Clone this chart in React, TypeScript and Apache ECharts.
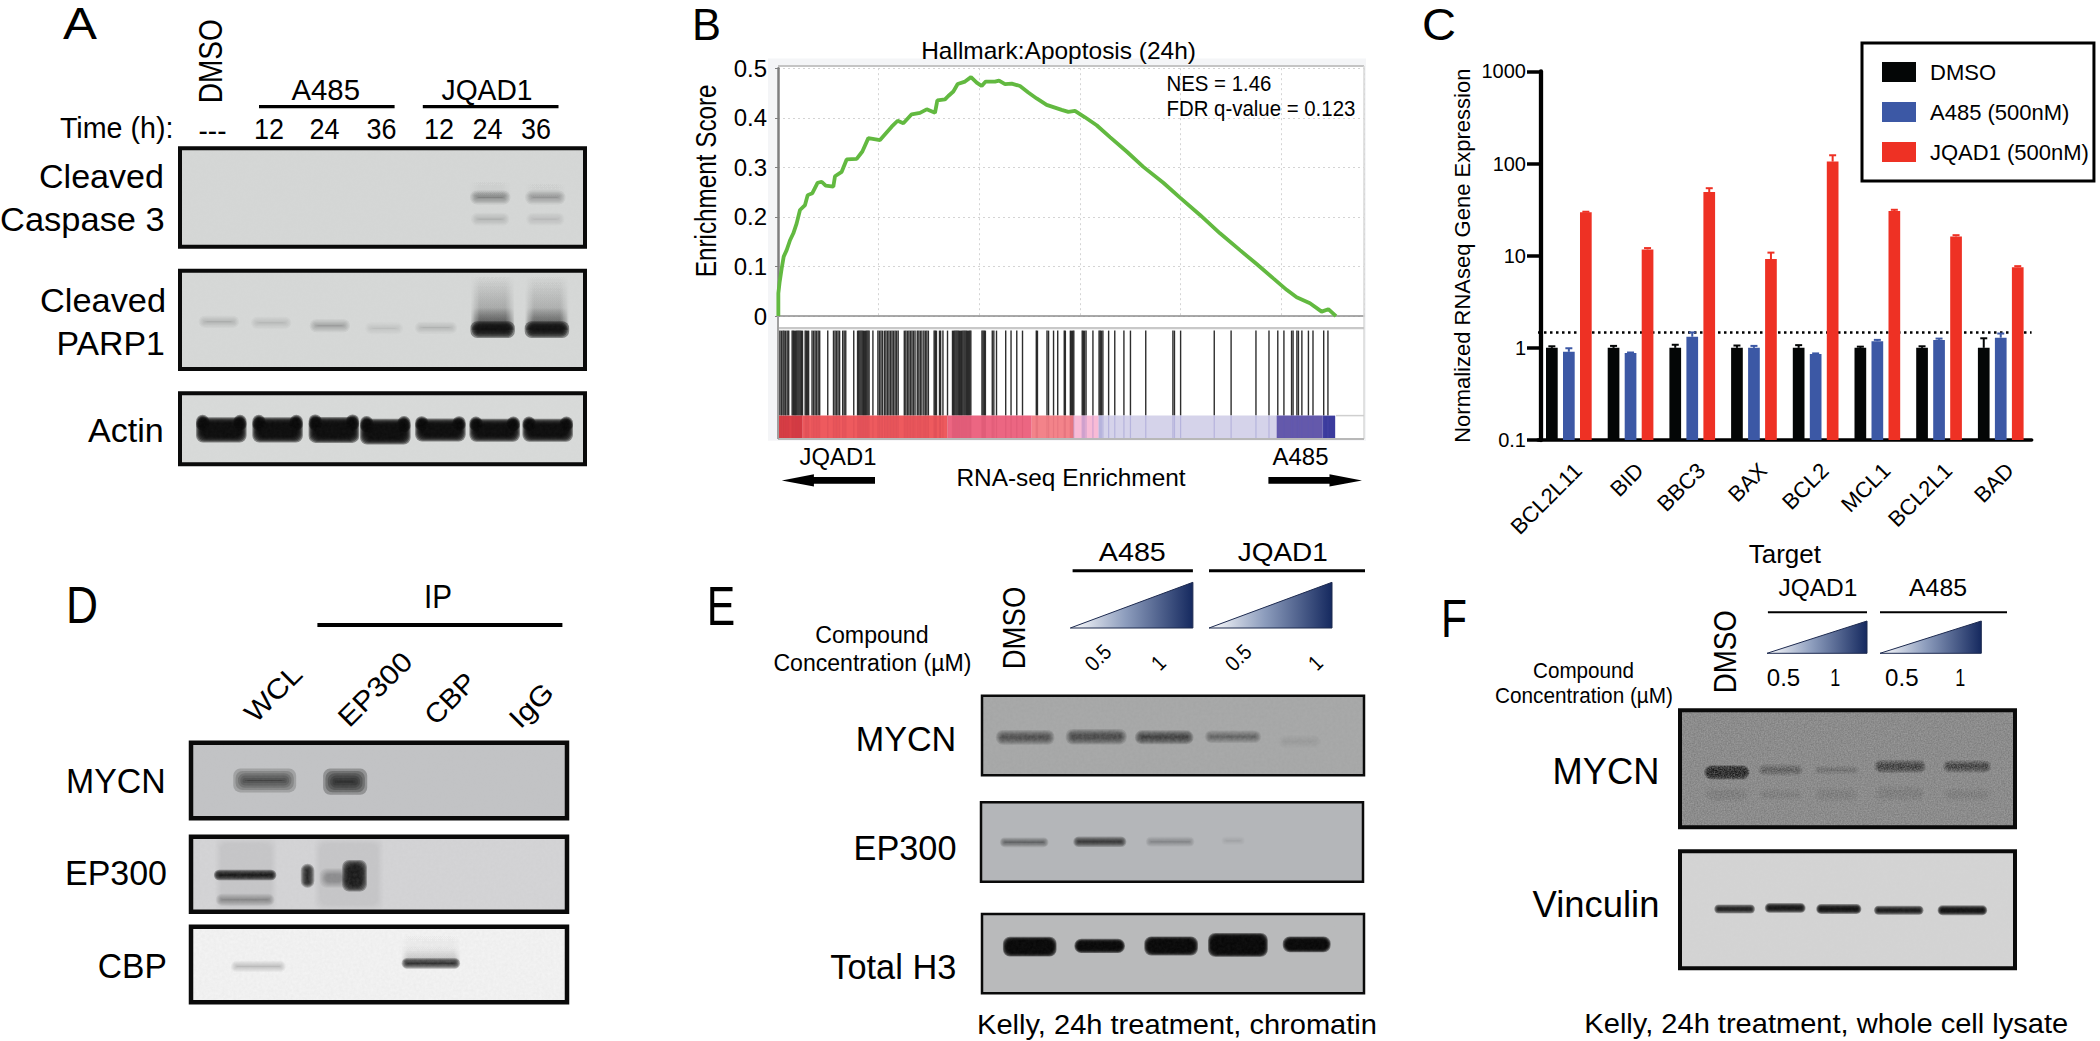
import React, { useEffect, useRef } from "react";
import * as echarts from "echarts";

// ---------- Panel B: enrichment running score ----------
const esRank = [7,7,33,73,113,172,239,305,371,437,537,590,683,789,868,948,1100,1133,1266,1365,1564,1677,1796,2028,2260,2379,2492,2657,2823,2956,3121,3168,3320,3386,3486,3572,3718,3837,3950,4049,4129,4314,4394,4513,4646,4811,4976,5142,5341,5639,5772,5904,6103,6335,6600,6931,7263,7660,7992,8389,8787,9184,9516,9847,10112,10311,10576,10808,10941,11093];
const esScore = [0,.046,.069,.096,.12,.133,.153,.167,.187,.214,.224,.244,.248,.269,.271,.263,.261,.282,.291,.316,.317,.332,.359,.355,.382,.394,.389,.407,.41,.417,.41,.435,.437,.444,.453,.468,.473,.482,.471,.464,.473,.473,.475,.468,.469,.464,.451,.439,.426,.416,.412,.414,.401,.385,.361,.332,.301,.269,.239,.204,.167,.133,.105,.076,.053,.038,.026,.009,.014,0];
const hitRanks = [8,38,68,99,122,152,183,213,281,304,327,350,373,396,418,441,464,487,540,563,586,609,677,708,738,768,799,829,989,1103,1134,1164,1194,1225,1286,1316,1347,1506,1582,1605,1628,1651,1674,1697,1719,1742,1765,1788,1811,1887,1986,2016,2047,2077,2115,2145,2176,2206,2237,2267,2297,2328,2358,2389,2511,2541,2572,2602,2632,2663,2693,2724,2769,2800,2830,2861,2899,2929,2959,2990,3104,3127,3150,3211,3233,3279,3370,3469,3492,3515,3538,3560,3583,3606,3629,3652,3675,3698,3720,3743,3766,3789,3812,3834,4055,4078,4101,4123,4260,4291,4344,4527,4633,4747,4861,5135,5158,5348,5379,5478,5561,5691,5713,5812,5835,5858,5881,6048,6071,6094,6124,6261,6383,6406,6429,6459,6573,6695,6877,7007,7311,7851,7882,8004,8673,9008,9502,9761,9936,10058,10210,10240,10316,10347,10415,10545,10636,10849,10933];
const stripStart = [0,480,3370,5044,5881,6375,9913,10826];
const stripEnd = [480,3370,5044,5881,6375,9913,10826,11077];
const stripColors = ["#dc4147","#ee5a5e","#ec6682","#f3838a","#f8bbd6","#d5d3ea","#6459ab","#3b3b9d"];
const esTicks = ["0","0.1","0.2","0.3","0.4","0.5"];

// ---------- Panel C: RNA-seq bars ----------
const targets = ["BCL2L11","BID","BBC3","BAX","BCL2","MCL1","BCL2L1","BAD"];
const dmso = [1,1,1,1,1,1,1,1];
const a485 = [.906,.88,1.32,1,.86,1.18,1.22,1.29];
const jqad1 = [29.7,11.7,49,9.2,105,30.5,16.2,7.5];
const dmsoHi = [1.04,1.05,1.08,1.06,1.07,1.03,1.04,1.27];
const a485Hi = [.99,.89,1.47,1.05,.87,1.22,1.26,1.43];
const jqad1Hi = [30,12.1,54,10.8,123,31.5,16.7,7.7];
const dottedLevel = 1.47;

// ---------- Blots: [lane %, migration %, band width %, band thickness %, intensity, shape (0 band, 1 smile, 2 smear)] ----------
const casp3Bands = [[76.6,50,8,6,.42,0],[90.2,50,8,6,.32,0],[76.6,72,7.5,5,.17,0],[90.2,72,7.5,5,.14,0],[76.6,30,8,38,.1,2],[90.2,30,8,38,.07,2]];
const parpBands = [[9.6,52,8,4,.22,0],[22.5,53,8,4,.16,0],[37,56,8,5,.3,0],[50.4,58.6,7.5,4,.1,0],[63.2,58,8.5,4,.18,0],[77.2,32,8.6,56,.85,2],[90.6,32,8.6,56,.8,2],[77.2,60,9,9,.98,0],[90.6,60,9,9,.98,0]];
const actinBands = [[10.2,51.6,11,27,.98,1],[24.1,51.6,11,27,.98,1],[38,51.6,11,28,.98,1],[50.7,54,11,28,.98,1],[64.3,51.6,11,24,.98,1],[77.7,52,11,24,.98,1],[90.8,52,11,24,.98,1]];
const d1Bands = [[19.6,50,13,13,.8,0],[41,51.5,8,16,.92,0]];
const d2Bands = [[14.6,50,15,90,.06,0],[42,50,17,90,.06,0],[14.4,51,15,6,.97,0],[14.4,84,14,8,.35,0],[31,52,2,24,.9,0],[43.5,52,5,34,.95,0],[38,55,6,18,.3,0]];
const d3Bands = [[17.9,52.5,13,7,.25,0],[63.8,26,14,40,.3,2],[63.8,48.5,14,6,.88,0]];
const e1Bands = [[11.3,52.3,13.8,11,.62,0],[29.9,51.5,14.4,12,.68,0],[47.7,52.3,13.8,10,.75,0],[65.7,51.5,13.2,8,.52,0],[83.2,57.7,9.6,9,.08,0]];
const e2Bands = [[11.3,50.4,11.4,6,.52,0],[31.1,49.6,12.6,7,.75,0],[49.5,49.6,11.4,6,.28,0],[66,48.3,4.8,4,.1,0]];
const e3Bands = [[12.5,41.2,13,20,.98,0],[30.8,40.3,12.2,13,.98,0],[49.5,40.3,13,19,.98,0],[67,39,14.6,25,.98,0],[85,38.3,11.5,15,.98,0]];
const f1Bands = [[14,72,12,9,.1,0],[30,72,12,7,.08,0],[46.7,72,12,9,.08,0],[65.7,71,14,10,.08,0],[85.7,72,13,8,.08,0],[14,53,12,8,.97,0],[30,51,12,6,.4,0],[46.7,51,12,4,.22,0],[65.7,48,14,7,.7,0],[85.7,48,13,6.4,.65,0]];
const f2Bands = [[16.3,49.3,11,4.4,.9,0],[31.4,48.4,11,5,.93,0],[47.4,49.3,12.3,5,.95,0],[65.3,50.4,13.6,4.4,.92,0],[84.3,50.4,13.6,5,.95,0]];

// ---------- Layout ----------
const FONT = "'Liberation Sans'";
const BLOTS: any[] = [
  { x: 180, y: 148.3, w: 405, h: 98.4, bg: "#d5d7d6", bw: 4, blur: 4, bands: casp3Bands, color: "#111", noise: .03 },
  { x: 180, y: 270.7, w: 405, h: 98.3, bg: "#d6d8d7", bw: 4, blur: 4, bands: parpBands, color: "#111", noise: .03 },
  { x: 180, y: 393.3, w: 405, h: 71, bg: "#d8dad9", bw: 4, blur: 3, bands: actinBands, color: "#0a0a0a", noise: .03 },
  { x: 191, y: 742.7, w: 376, h: 75.6, bg: "#c2c3c5", bw: 4.5, blur: 7, bands: d1Bands, color: "#222", noise: .04 },
  { x: 191, y: 836.7, w: 376, h: 75, bg: "#d4d4d6", bw: 4.5, blur: 3, bands: d2Bands, color: "#111", noise: .1 },
  { x: 191, y: 926.7, w: 376, h: 75.6, bg: "#f3f3f3", bw: 4.5, blur: 3, bands: d3Bands, color: "#111", noise: .1 },
  { x: 982, y: 695.7, w: 382, h: 79.6, bg: "#a5a6a6", bw: 2.5, blur: 3, bands: e1Bands, color: "#1a1a1a", noise: .18 },
  { x: 981, y: 802.3, w: 382, h: 79.4, bg: "#b4b6b9", bw: 2.5, blur: 2.5, bands: e2Bands, color: "#111", noise: .05 },
  { x: 982, y: 914, w: 382, h: 79.3, bg: "#b9babb", bw: 2.5, blur: 2, bands: e3Bands, color: "#050505", noise: .05 },
  { x: 1680, y: 710.3, w: 335, h: 117, bg: "#7e7e7e", bw: 4, blur: 2.5, bands: f1Bands, color: "#0a0a0a", noise: .45 },
  { x: 1680, y: 851.3, w: 335, h: 117, bg: "#d4d4d4", bw: 4, blur: 2, bands: f2Bands, color: "#0a0a0a", noise: .05 },
];

const measureCtx = typeof document !== "undefined" ? document.createElement("canvas").getContext("2d") : null;
// text placed by centre, cap height and overall width
function T(text: string, cx: number, cy: number, cap: number, width: number, deg = 0) {
  const fs = Math.round(cap / 0.688 * 10) / 10;
  measureCtx!.font = `${fs}px "Liberation Sans"`;
  const mw = measureCtx!.measureText(text).width || 1;
  return {
    type: "text", x: cx, y: cy, rotation: (deg * Math.PI) / 180, scaleX: width / mw, z: 20, silent: true,
    style: { text, font: `${fs}px ${FONT}`, fill: "#000", align: "center", verticalAlign: "middle" },
  };
}
const L = (x1: number, y1: number, x2: number, y2: number, lw: number, c = "#000", z = 20) => ({
  type: "line", z, silent: true, shape: { x1, y1, x2, y2 }, style: { stroke: c, lineWidth: lw },
});
const wedge = (x0: number, x1: number, y0: number, y1: number) => ({
  type: "polygon", z: 20, silent: true,
  shape: { points: [[x0, y1], [x1, y0], [x1, y1]] },
  style: {
    stroke: "#1d2a4f", lineWidth: 1,
    fill: new (echarts.graphic as any).LinearGradient(0, 0, 1, 0, [
      { offset: 0, color: "#ffffff" }, { offset: .45, color: "#8d9dbd" }, { offset: 1, color: "#15295f" },
    ]),
  },
});
const noiseUri = (w: number, h: number, f: number) =>
  "data:image/svg+xml;utf8," + encodeURIComponent(
    `<svg xmlns="http://www.w3.org/2000/svg" width="${w}" height="${h}"><filter id="n"><feTurbulence type="fractalNoise" baseFrequency="${f}" numOctaves="2" seed="4"/><feColorMatrix type="matrix" values="0 0 0 0 .5 0 0 0 0 .5 0 0 0 0 .5 1.6 0 0 0 -.3"/></filter><rect width="${w}" height="${h}" fill="#808080" filter="url(#n)"/></svg>`);

const bandRenderer = (blur: number, color: string) => (_: any, api: any) => {
  const [cx, cy] = api.coord([api.value(0), api.value(1)]);
  const [w, h] = api.size([api.value(2), api.value(3)]);
  const I = api.value(4), shape = api.value(5);
  const N = 7, alpha = 1 - Math.pow(1 - I, 1 / N);
  const children: any[] = [];
  const layer = (x: number, y: number, ww: number, hh: number) => {
    for (let k = 0; k < N; k++) {
      const g = blur * (1 - (2 * k) / (N - 1));
      const bw = Math.max(ww + 2 * g, 1), bh = Math.max(hh + 2 * g, 1);
      children.push({
        type: "rect",
        shape: { x: x - bw / 2, y: y - bh / 2, width: bw, height: bh, r: Math.min(bh, bw, 14) / 2 },
        style: { fill: color, opacity: alpha },
      });
    }
  };
  if (shape === 2) {
    for (let k = 0; k < N; k++) {
      const g = blur * (1 - (2 * k) / (N - 1));
      const bw = w + 2 * g;
      children.push({
        type: "rect",
        shape: { x: cx - bw / 2, y: cy - h / 2, width: bw, height: h },
        style: {
          fill: new (echarts.graphic as any).LinearGradient(0, 0, 0, 1, [
            { offset: 0, color: "rgba(15,15,15,0)" },
            { offset: .6, color: `rgba(15,15,15,${alpha * .15})` },
            { offset: .85, color: `rgba(15,15,15,${alpha * .5})` },
            { offset: 1, color: `rgba(15,15,15,${alpha})` },
          ]),
        },
      });
    }
    return { type: "group", children };
  }
  layer(cx, cy, w, h);
  if (shape === 1) {
    layer(cx - w * 0.42, cy - h * 0.38, w * 0.16, h * 0.5);
    layer(cx + w * 0.42, cy - h * 0.38, w * 0.16, h * 0.5);
  }
  return { type: "group", children };
};

const SLOT = 0.2755, BAR = 0.1896; // bar offset and width as parts of a category band
const barRenderer = (col: string, slot: number) => (_: any, api: any) => {
  const band = api.size([1, 0])[0];
  const top = api.coord([api.value(0), api.value(1)]);
  const base = api.coord([api.value(0), 0.1]);
  const w = band * BAR, x = top[0] + slot * band * SLOT;
  return { type: "rect", shape: { x: x - w / 2, y: top[1], width: w, height: base[1] - top[1] }, style: { fill: col } };
};
const errorRenderer = (col: string, slot: number) => (_: any, api: any) => {
  const band = api.size([1, 0])[0];
  const p = api.coord([api.value(0), api.value(1)]);
  const q = api.coord([api.value(0), api.value(2)]);
  const x = p[0] + slot * band * SLOT;
  return {
    type: "group",
    children: [
      { type: "line", shape: { x1: x, y1: p[1], x2: x, y2: q[1] }, style: { stroke: col, lineWidth: 2 } },
      { type: "line", shape: { x1: x - 3.5, y1: q[1], x2: x + 3.5, y2: q[1] }, style: { stroke: col, lineWidth: 2 } },
    ],
  };
};

const COL_D = "#040606", COL_A = "#3c58a5", COL_J = "#ee3124";

function buildOption() {
  const grid: any[] = [
    { left: 778, width: 586, top: 68.2, height: 247.9 },
    { left: 778, width: 586, top: 330.6, height: 85 },
    { left: 778, width: 586, top: 415.6, height: 22.4 },
    { left: 1538, width: 493.6, top: 71.4, height: 368.6 },
  ];
  const hiddenV = (gridIndex: number, extra: any = {}) => ({ type: "value", gridIndex, show: false, ...extra });
  const xAxis: any[] = [
    {
      type: "value", gridIndex: 0, min: 0, max: 11650, interval: 2000,
      axisLine: { show: true, onZero: false, lineStyle: { color: "#8d8d8d", width: 1.5 } },
      axisTick: { show: false }, axisLabel: { show: false },
      splitLine: { show: true, lineStyle: { color: "#d4d4d4", type: [2, 3], width: 1 } },
    },
    hiddenV(1, { min: 0, max: 11650 }),
    hiddenV(2, { min: 0, max: 11650 }),
    {
      type: "category", gridIndex: 3, data: targets, name: "Target", nameLocation: "middle", nameGap: 92,
      nameTextStyle: { fontFamily: FONT, fontSize: 26, color: "#000" },
      axisLine: { lineStyle: { color: "#000", width: 3.6 } },
      axisTick: { alignWithLabel: true, length: 14, lineStyle: { color: "#000", width: 3.5 } },
      axisLabel: { rotate: 45, fontFamily: FONT, fontSize: 22, color: "#000", margin: 36, interval: 0, padding: [0, -13, 0, 0] },
    },
  ];
  const yAxis: any[] = [
    {
      type: "value", gridIndex: 0, min: 0, max: .5, interval: .1,
      axisLine: { show: true, lineStyle: { color: "#7f7f7f", width: 2.5 } },
      axisTick: { show: true, length: 3, lineStyle: { color: "#7f7f7f" } },
      axisLabel: {
        fontFamily: FONT, fontSize: 24, color: "#000", margin: 11,
        formatter: (v: number) => esTicks[Math.round(v * 10)],
      },
      splitLine: { show: true, lineStyle: { color: "#d4d4d4", type: [2, 3], width: 1 } },
    },
    hiddenV(1, { min: 0, max: 1 }),
    hiddenV(2, { min: 0, max: 1 }),
    {
      type: "log", logBase: 10, gridIndex: 3, min: .1, max: 1000, offset: -3,
      name: "Normalized RNAseq Gene Expression", nameLocation: "middle", nameRotate: 90, nameGap: 68,
      nameTextStyle: { fontFamily: FONT, fontSize: 22, color: "#000" },
      axisLine: { show: true, lineStyle: { color: "#000", width: 4.3 } },
      axisTick: { show: true, length: 14, lineStyle: { color: "#000", width: 3.5 } },
      minorTick: { show: false }, splitLine: { show: false },
      axisLabel: {
        fontFamily: FONT, fontSize: 20, color: "#000", margin: 15,
        formatter: (v: number) => String(+(+v).toFixed(1)),
      },
    },
  ];
  const barSeries = (name: string, vals: number[], col: string, slot: number, extra: any = {}) => ({
    name, type: "custom", xAxisIndex: 3, yAxisIndex: 3, z: 3, encode: { x: 0, y: 1 },
    itemStyle: { color: col },
    data: targets.map((_, i) => [i, vals[i]]),
    renderItem: barRenderer(col, slot),
    ...extra,
  });
  const series: any[] = [
    {
      name: "Running enrichment score", type: "line", xAxisIndex: 0, yAxisIndex: 0, showSymbol: false, z: 4, clip: false,
      data: esRank.map((r, i) => [r, esScore[i]]), lineStyle: { color: "#62b940", width: 3.8 },
    },
    {
      name: "Gene hits", type: "custom", xAxisIndex: 1, yAxisIndex: 1, encode: { x: 0, y: 1 }, z: 3,
      data: hitRanks.map((r) => [r, 1]),
      renderItem: (_: any, api: any) => {
        const x = api.coord([api.value(0), 0])[0];
        return {
          type: "line",
          shape: { x1: x, y1: api.coord([0, 0])[1], x2: x, y2: api.coord([0, 1])[1] },
          style: { stroke: "#111", lineWidth: 1.4, opacity: .88 },
        };
      },
    },
    {
      name: "Rank strip", type: "custom", xAxisIndex: 2, yAxisIndex: 2, encode: { x: [0, 1], y: 3 }, z: 3,
      data: stripStart.map((s, i) => [s, stripEnd[i], i, 1]),
      renderItem: (_: any, api: any) => {
        const a = api.coord([api.value(0), 1]), b = api.coord([api.value(1), 0]);
        return {
          type: "rect", shape: { x: a[0], y: a[1], width: b[0] - a[0], height: b[1] - a[1] },
          style: { fill: stripColors[api.value(2)] },
        };
      },
    },
    {
      name: "Rank strip hits", type: "custom", xAxisIndex: 2, yAxisIndex: 2, encode: { x: 0, y: 1 }, z: 4,
      data: hitRanks.map((r) => [r, 1]),
      renderItem: (_: any, api: any) => {
        const r = api.value(0);
        const x = api.coord([r, 0])[0];
        const warm = r < stripEnd[3];
        return {
          type: "line",
          shape: { x1: x, y1: api.coord([0, 0])[1], x2: x, y2: api.coord([0, 1])[1] },
          style: { stroke: warm ? "#8a1030" : "#5a58b8", lineWidth: 1.2, opacity: warm ? .1 : .25 },
        };
      },
    },
    barSeries("DMSO", dmso, COL_D, -1, {
      markLine: {
        silent: true, symbol: "none", z: 1, animation: false, label: { show: false },
        data: [{ yAxis: dottedLevel }], lineStyle: { color: "#000", type: [2.5, 3.5], width: 2.5 },
      },
    }),
    barSeries("A485 (500nM)", a485, COL_A, 0),
    barSeries("JQAD1 (500nM)", jqad1, COL_J, 1),
    ...[[dmso, dmsoHi, COL_D, -1], [a485, a485Hi, COL_A, 0], [jqad1, jqad1Hi, COL_J, 1]].map((e: any, k) => ({
      name: "err" + k, type: "custom", xAxisIndex: 3, yAxisIndex: 3, z: 4, encode: { x: 0, y: [1, 2] },
      data: targets.map((_, i) => [i, e[0][i], e[1][i]]),
      renderItem: errorRenderer(e[2], e[3]),
    })),
  ];

  const graphic: any[] = [
    // B frame
    { type: "rect", z: -5, silent: true, shape: { x: 768, y: 58.5, width: 598, height: 382.3 }, style: { fill: "#f4f5f7" } },
    { type: "rect", z: -4, silent: true, shape: { x: 778, y: 66, width: 586, height: 373 }, style: { fill: "#fff" } },
    L(778, 66.1, 1364, 66.1, 2, "#c4c4c4", 6), L(1364, 66.1, 1364, 439, 1.5, "#d8d8d8", 6),
    L(778, 328.2, 1364, 328.2, 2.2, "#c8c8c8", 6), L(778, 439, 1364, 439, 2.2, "#b8b8b8", 6),
    L(778, 316, 778, 439, 2, "#a0a0a0", 6), L(1336, 415.6, 1364, 415.6, 1.5, "#cfcfcf", 6),
    // B arrows
    { type: "polygon", z: 20, silent: true, shape: { points: [[781.8, 480.4], [813.9, 474.2], [813.9, 477], [875, 477], [875, 483.8], [813.9, 483.8], [813.9, 486.6]] }, style: { fill: "#000" } },
    { type: "polygon", z: 20, silent: true, shape: { points: [[1362, 480.4], [1329.5, 474.2], [1329.5, 477], [1268.4, 477], [1268.4, 483.8], [1329.5, 483.8], [1329.5, 486.6]] }, style: { fill: "#000" } },
    // A
    T("A", 80, 24, 30, 34),
    T("DMSO", 210.3, 61.3, 23.4, 84, 90),
    T("A485", 325.7, 90, 20, 68.5), T("JQAD1", 487, 90, 20, 91),
    L(259, 106.7, 394.6, 106.7, 3.3), L(422.8, 106.7, 558.5, 106.7, 3.3),
    T("Time (h):", 116.7, 128.3, 20, 113.6),
    T("---", 212.5, 130.7, 20, 28),
    T("12", 268.9, 129, 20, 30), T("24", 324.4, 129, 20, 30), T("36", 381.6, 129, 20, 30),
    T("12", 438.9, 129, 20, 30), T("24", 487.4, 129, 20, 30), T("36", 536, 129, 20, 30),
    T("Cleaved", 101.5, 175.7, 23, 125), T("Caspase 3", 82.4, 219, 23, 164.8),
    T("Cleaved", 103, 300, 23, 126), T("PARP1", 110.6, 343.3, 23, 108.4), T("Actin", 125.9, 430, 23, 75.9),
    // B
    T("B", 706.5, 25, 30, 29),
    T("Hallmark:Apoptosis (24h)", 1058.6, 50.6, 16, 275),
    T("NES = 1.46", 1218.9, 83.7, 15.5, 105), T("FDR q-value = 0.123", 1260.9, 108.8, 15.5, 189),
    T("Enrichment Score", 705.9, 180.8, 20, 192.8, 90),
    T("JQAD1", 838, 456.3, 16.5, 76.8), T("A485", 1300.5, 456.3, 16.5, 56),
    T("RNA-seq Enrichment", 1071, 477.6, 17, 229),
    // C
    T("C", 1439, 25, 30, 34),
    // D
    T("D", 82, 605.7, 35, 32), T("IP", 438, 597.3, 22.3, 28), L(317.4, 625, 562.4, 625, 4),
    T("WCL", 273.2, 693.3, 19, 68, 45), T("EP300", 375, 689.3, 19, 92, 45),
    T("CBP", 450, 698.3, 19, 60, 45), T("IgG", 531, 705, 19, 50, 45),
    T("MYCN", 115.8, 780.7, 24.3, 99.7), T("EP300", 116, 873.3, 24, 102), T("CBP", 132.3, 965.7, 24, 69),
    // E
    T("E", 720.9, 605.7, 38, 28.5),
    T("A485", 1132.3, 552, 17.5, 67), T("JQAD1", 1282.8, 552, 17.5, 90),
    L(1072.6, 570.7, 1192.9, 570.7, 3), L(1209, 570.7, 1365, 570.7, 3),
    wedge(1070.3, 1192.9, 582.3, 628), wedge(1209, 1332, 582.3, 628),
    T("Compound", 871.9, 635, 16, 113.4), T("Concentration (µM)", 872.4, 663.3, 16, 198),
    T("DMSO", 1014.2, 628, 21.6, 82.7, 90),
    T("0.5", 1097.8, 657.3, 15, 27, 45), T("1", 1158.4, 662.7, 15, 10, 45),
    T("0.5", 1237.9, 657.3, 15, 27, 45), T("1", 1315.5, 662.7, 15, 10, 45),
    T("MYCN", 906, 739.3, 24, 100.6), T("EP300", 905, 848.3, 24, 103), T("Total H3", 893.3, 966.7, 24, 126),
    T("Kelly, 24h treatment, chromatin", 1177, 1024, 19.5, 400),
    // F
    T("F", 1454, 618, 37, 26),
    T("JQAD1", 1817.9, 587.3, 16, 79), T("A485", 1938, 587.3, 16, 58),
    L(1767.9, 612.3, 1867, 612.3, 2), L(1880, 612.3, 2007, 612.3, 2),
    wedge(1767, 1867, 621, 653.3), wedge(1880, 1981.3, 621, 653.3),
    T("0.5", 1783.5, 677.3, 17, 33.5), T("1", 1835.3, 677.3, 17, 10),
    T("0.5", 1901.8, 677.3, 17, 33.5), T("1", 1960.3, 677.3, 17, 10),
    T("DMSO", 1725, 651.7, 22, 83.3, 90),
    T("Compound", 1583.5, 670, 15, 101), T("Concentration (µM)", 1584, 695.7, 15, 178),
    T("MYCN", 1606, 770.7, 26, 107), T("Vinculin", 1596, 904, 26, 127),
    T("Kelly, 24h treatment, whole cell lysate", 1826.3, 1023.5, 19.5, 484),
  ];

  BLOTS.forEach((b, i) => {
    const gi = grid.length;
    grid.push({ left: b.x, top: b.y, width: b.w, height: b.h, show: true, backgroundColor: b.bg, borderWidth: 0 });
    xAxis.push(hiddenV(gi, { min: 0, max: 100 }));
    yAxis.push(hiddenV(gi, { min: 0, max: 100, inverse: true }));
    series.push({
      name: "blot" + i, type: "custom", xAxisIndex: gi, yAxisIndex: gi, encode: { x: 0, y: 1 }, z: 3, clip: true,
      data: b.bands, renderItem: bandRenderer(b.blur, b.color),
    });
    graphic.push({
      type: "image", z: 5, silent: true, x: b.x, y: b.y,
      style: { image: noiseUri(b.w, b.h, b.noise > .3 ? .7 : .35), x: 0, y: 0, width: b.w, height: b.h, opacity: b.noise },
    });
    graphic.push({
      type: "rect", z: 6, silent: true, shape: { x: b.x, y: b.y, width: b.w, height: b.h },
      style: { fill: "none", stroke: "#0a0a0a", lineWidth: b.bw },
    });
  });

  return {
    animation: false,
    backgroundColor: "#fff",
    textStyle: { fontFamily: FONT },
    grid, xAxis, yAxis, series, graphic,
    tooltip: { show: false },
    legend: {
      show: true, data: ["DMSO", "A485 (500nM)", "JQAD1 (500nM)"], orient: "vertical",
      left: 1862, top: 43, itemWidth: 34, itemHeight: 20, itemGap: 18, padding: [18, 5, 18, 20],
      borderColor: "#000", borderWidth: 3, backgroundColor: "#fff", icon: "rect",
      textStyle: { fontFamily: FONT, fontSize: 22, color: "#000", padding: [0, 0, 0, 9] },
    },
  };
}

export default function App() {
  const ref = useRef<HTMLDivElement>(null);
  useEffect(() => {
    document.body.style.margin = "0";
    const chart = echarts.init(ref.current!, undefined, { renderer: "svg" });
    chart.setOption(buildOption() as any);
    return () => chart.dispose();
  }, []);
  return <div ref={ref} style={{ width: 2100, height: 1041 }} />;
}
